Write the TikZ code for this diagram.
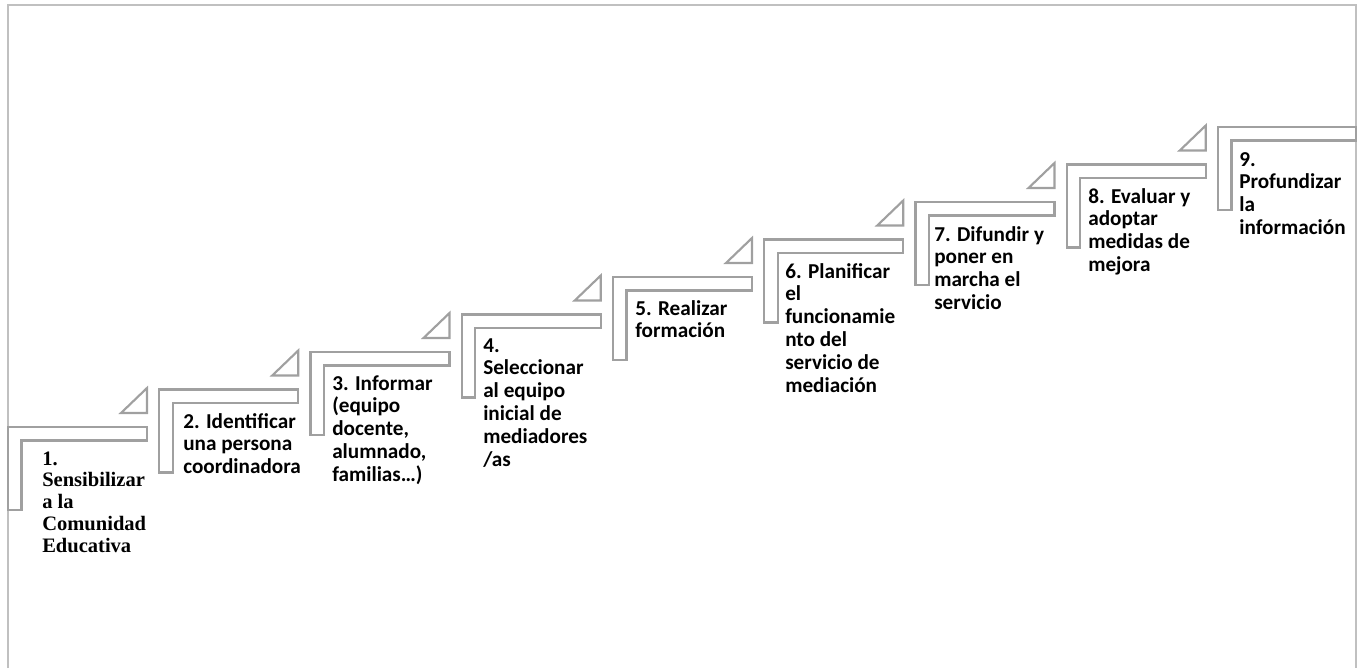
\documentclass[tikz,border=0pt]{standalone}
\usepackage{fontspec}
\setmainfont{Carlito}
\newfontfamily\timesbf{Liberation Serif}
\definecolor{framegray}{HTML}{C0C0C0}
\definecolor{stepgray}{HTML}{A0A0A0}
\newcommand{\steplines}[1]{\begin{tabular}[t]{@{}l@{}}#1\end{tabular}}
\tikzset{
  frameline/.style={draw=framegray, line width=1.5pt},
  stepshape/.style={draw=stepgray, line width=1.6pt, fill=white, line join=miter},
  lbl/.style={inner sep=0pt, anchor=base west, text=black,
    font=\fontsize{15.9}{17.1}\selectfont\bfseries},
  lblserif/.style={lbl, font=\timesbf\fontsize{15.4}{16.4}\selectfont\bfseries}
}
\begin{document}
\begin{tikzpicture}[x=0.75pt,y=-0.75pt]
\useasboundingbox (0,0) rectangle (1358,668);
\draw[frameline] (8,668) -- (8,4.5) -- (1356,4.5) -- (1356,668);
\foreach \i in {1,...,9}{
  \pgfmathsetmacro{\xo}{8+151.25*(\i-1)}
  \pgfmathsetmacro{\tp}{427-37.5*(\i-1)}
  \pgfmathsetmacro{\rr}{min(\xo+139,1356)}
  \draw[stepshape] (\xo,\tp) -- (\rr,\tp) -- (\rr,{\tp+13.5}) -- ({\xo+13.5},{\tp+13.5})
     -- ({\xo+13.5},{\tp+83}) -- (\xo,{\tp+83}) -- cycle;
  \ifnum\i<9
    \draw[stepshape] ({\rr-26},{\tp-14}) -- (\rr,{\tp-14}) -- (\rr,{\tp-39}) -- cycle;
  \fi
}
\node[lblserif] (s1) at (42,465) {\steplines{1.\\Sensibilizar\\a la\\Comunidad\\Educativa}};
\node[lbl] (s2) at (183,428) {\steplines{2. Identificar\\una persona\\coordinadora}};
\node[lbl] (s3) at (332,390) {\steplines{3. Informar\\(equipo\\docente,\\alumnado,\\familias…)}};
\node[lbl] (s4) at (483,352) {\steplines{4.\\Seleccionar\\al equipo\\inicial de\\mediadores\\/as}};
\node[lbl] (s5) at (635,315) {\steplines{5. Realizar\\formación}};
\node[lbl] (s6) at (785,278) {\steplines{6. Planificar\\el\\funcionamie\\nto del\\servicio de\\mediación}};
\node[lbl] (s7) at (934,241) {\steplines{7. Difundir y\\poner en\\marcha el\\servicio}};
\node[lbl] (s8) at (1088,203) {\steplines{8. Evaluar y\\adoptar\\medidas de\\mejora}};
\node[lbl] (s9) at (1239,166) {\steplines{9.\\Profundizar\\la\\información}};
\end{tikzpicture}
\end{document}
